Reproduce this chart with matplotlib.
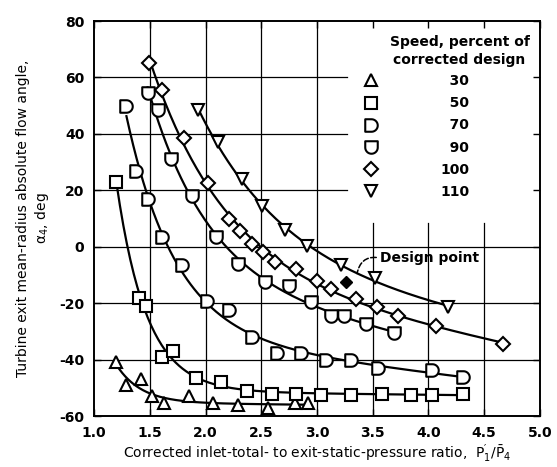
import numpy as np
import matplotlib.pyplot as plt
from matplotlib.path import Path
from matplotlib.lines import Line2D
from matplotlib import font_manager

plt.rcParams['axes.unicode_minus'] = False
names = {f.name for f in font_manager.fontManager.ttflist}
fam = 'Liberation Sans Narrow' if 'Liberation Sans Narrow' in names else 'DejaVu Sans'
plt.rc('font', family=fam, weight='bold', size=10)
plt.rcParams['mathtext.default'] = 'regular'

# data
speeds = ['30', '50', '70', '90', '100', '110']
pr30 = [1.20, 1.29, 1.42, 1.52, 1.63, 1.85, 2.07, 2.29, 2.56, 2.80, 2.92]
ang30 = [-41, -49, -47, -53, -55.5, -53, -55.5, -56, -57, -55.5, -55.5]
pr50 = [1.20, 1.40, 1.47, 1.61, 1.71, 1.91, 2.14, 2.37, 2.60, 2.81, 3.04, 3.31, 3.58, 3.84, 4.03, 4.31]
ang50 = [23, -18, -21, -39, -37, -46.5, -48, -51, -52, -52, -52.5, -52.5, -52, -52.5, -52.5, -52]
pr70 = [1.29, 1.38, 1.48, 1.61, 1.79, 2.01, 2.21, 2.42, 2.64, 2.86, 3.08, 3.31, 3.55, 4.03, 4.31]
ang70 = [50, 27, 17, 3.5, -6.5, -19.3, -22.5, -32, -37.5, -37.5, -40, -40, -43, -43.6, -46]
pr90 = [1.48, 1.57, 1.69, 1.88, 2.09, 2.29, 2.53, 2.75, 2.95, 3.13, 3.24, 3.44, 3.69]
ang90 = [54.5, 48.5, 31, 18, 3.6, -6, -12.5, -14, -19.6, -24.6, -24.6, -27.5, -30.4]
pr100 = [1.49, 1.61, 1.81, 2.02, 2.21, 2.31, 2.42, 2.52, 2.62, 2.81, 3.00, 3.13, 3.35, 3.54, 3.73, 4.07, 4.67]
ang100 = [65, 55.5, 38.5, 22.5, 10, 5.7, 1, -1.8, -5.4, -8, -12, -15, -18.6, -21.4, -24.6, -28.2, -34.6]
pr110 = [1.93, 2.11, 2.33, 2.51, 2.71, 2.91, 3.22, 3.52, 4.18]
ang110 = [48.5, 37, 24, 14.3, 6, 0.4, -6.5, -11, -21.4]
design_pr = [3.26]
design_ang = [-12.5]

# D shaped marker (flat left, round right) and shield (flat top, round bottom)
t = np.linspace(-np.pi / 2, np.pi / 2, 20)
d_verts = [(-1, -1)] + list(zip(np.cos(t), np.sin(t))) + [(-1, 1), (-1, -1)]
d_marker = Path(d_verts, closed=True)
u_marker = Path([(y, -x) for x, y in d_verts], closed=True)
markers = ['^', 's', d_marker, u_marker, 'D', 'v']
sizes = [8.5, 8.5, 9, 9, 7.5, 8.5]


def fair_curve(x, y, n=200):
    # smooth faired line: constant + exponential decay + linear term
    x = np.asarray(x, float)
    y = np.asarray(y, float)
    best = None
    for k in np.linspace(0.3, 12, 240):
        A = np.column_stack([np.ones_like(x), np.exp(-k * (x - x[0])), x])
        coef = np.linalg.lstsq(A, y, rcond=None)[0]
        err = np.sum((A @ coef - y) ** 2)
        if best is None or err < best[0]:
            best = (err, k, coef)
    _, k, c = best
    xs = np.linspace(x[0], x[-1], n)
    return xs, c[0] + c[1] * np.exp(-k * (xs - x[0])) + c[2] * xs


fig = plt.figure(figsize=(5.57, 4.67), dpi=100)
ax = fig.add_axes([0.169, 0.109, 0.800, 0.846])

series = [(pr30, ang30), (pr50, ang50), (pr70, ang70), (pr90, ang90), (pr100, ang100), (pr110, ang110)]
for (x, y), m, s in zip(series, markers, sizes):
    xs, ys = fair_curve(x, y)
    ax.plot(xs, ys, color='black', lw=1.6, zorder=2)
    ax.plot(x, y, ls='none', marker=m, ms=s, mfc='white', mec='black', mew=1.5, zorder=3)
ax.plot(design_pr, design_ang, ls='none', marker='D', ms=6.5, mfc='black', mec='black', zorder=4)

ax.annotate('Design point', xy=(3.36, -9.5), xytext=(3.57, -4),
            va='center', ha='left', fontsize=10,
            arrowprops=dict(arrowstyle='-', ls='--', lw=1.1, relpos=(0, 0.5),
                            connectionstyle='arc3,rad=0.5', shrinkA=1, shrinkB=0))

ax.set_xlim(1.0, 5.0)
ax.set_ylim(-60, 80)
ax.set_xticks(np.arange(1.0, 5.01, 0.5))
ax.set_yticks(np.arange(-60, 81, 20))
ax.tick_params(direction='in', length=5, width=1, top=True, right=True,
               labelsize=10, pad=7)

# grid is broken around the key in the upper right
for gx in [1.5, 2.0, 2.5, 3.0]:
    ax.axvline(gx, color='black', lw=0.9, zorder=1)
for gx in [3.5, 4.0, 4.5]:
    ax.axvline(gx, ymax=(8.5 + 60) / 140, color='black', lw=0.9, zorder=1)
for gy in [-40, -20, 0]:
    ax.axhline(gy, color='black', lw=0.9, zorder=1)
for gy in [20, 40, 60]:
    ax.axhline(gy, xmax=(3.27 - 1) / 4, color='black', lw=0.9, zorder=1)
for sp in ax.spines.values():
    sp.set_linewidth(1.4)

ax.text(0.82, 0.965, 'Speed, percent of\ncorrected design', transform=ax.transAxes,
        ha='center', va='top', fontsize=10, linespacing=1.35)
handles = [Line2D([], [], ls='none', marker=m, ms=s, mfc='white', mec='black', mew=1.5)
           for m, s in zip(markers, sizes)]
labels = [lab if len(lab) == 3 else '\u2007' + lab for lab in speeds]
ax.legend(handles, labels, loc='upper left', bbox_to_anchor=(0.605, 0.865),
          frameon=False, handlelength=1, handletextpad=4.5, labelspacing=0.58,
          fontsize=10, borderaxespad=0, borderpad=0)

ax.set_xlabel("Corrected inlet-total- to exit-static-pressure ratio,  $P_1'/\\bar{P}_4$",
              fontsize=10, labelpad=2)
ax.set_ylabel('Turbine exit mean-radius absolute flow angle,\n$\\alpha_4$, deg',
              fontsize=10, labelpad=6)

plt.savefig('out.png', dpi=100)
